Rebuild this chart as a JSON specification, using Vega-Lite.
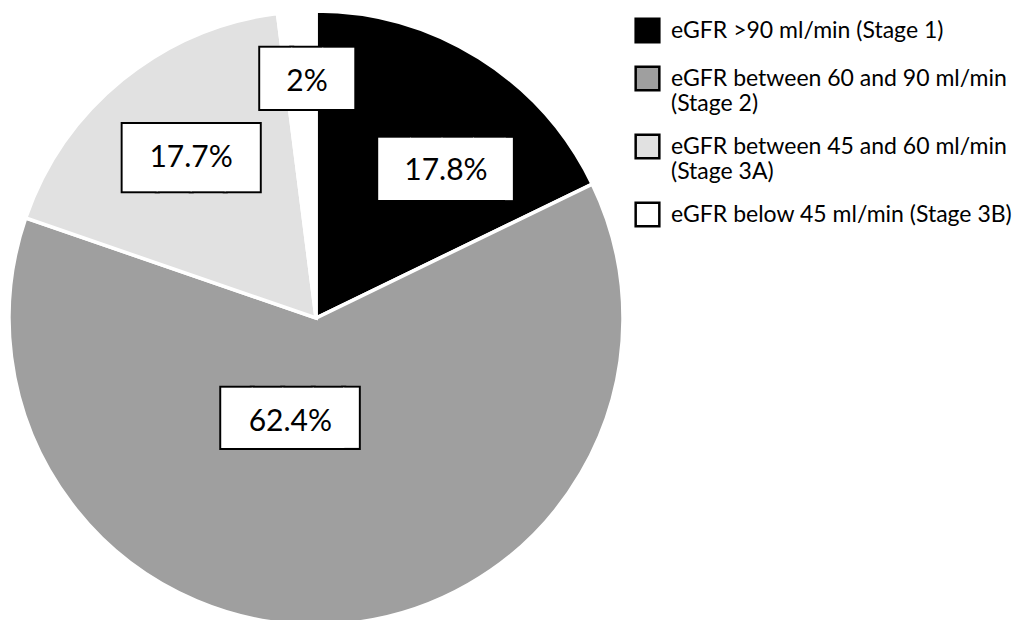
{
  "$schema": "https://vega.github.io/schema/vega-lite/v6.json",
  "width": 632,
  "height": 604,
  "autosize": {"type": "none"},
  "padding": {"left": 0, "top": 16, "right": 398, "bottom": 0},
  "background": "white",
  "config": {"view": {"stroke": null}},
  "data": {
    "values": [
      {"category": "eGFR >90 ml/min (Stage 1)", "value": 17.8, "order": 1, "label": "17.8%"},
      {"category": "eGFR between 60 and 90 ml/min (Stage 2)", "value": 62.4, "order": 2, "label": "62.4%"},
      {"category": "eGFR between 45 and 60 ml/min (Stage 3A)", "value": 17.7, "order": 3, "label": "17.7%"},
      {"category": "eGFR below 45 ml/min (Stage 3B)", "value": 2, "order": 4, "label": "2%"}
    ]
  },
  "encoding": {
    "theta": {"field": "value", "type": "quantitative", "stack": true},
    "order": {"field": "order", "type": "quantitative"}
  },
  "layer": [
    {
      "mark": {"type": "arc", "outerRadius": 307, "stroke": "white", "strokeWidth": 3.5},
      "encoding": {
        "fill": {
          "field": "category",
          "type": "nominal",
          "scale": {
            "domain": ["eGFR >90 ml/min (Stage 1)", "eGFR between 60 and 90 ml/min (Stage 2)", "eGFR between 45 and 60 ml/min (Stage 3A)", "eGFR below 45 ml/min (Stage 3B)"],
            "range": ["#000000", "#9f9f9f", "#e1e1e1", "#ffffff"]
          },
          "legend": {
            "orient": "none",
            "legendX": 634,
            "legendY": 1,
            "title": null,
            "symbolType": "square",
            "symbolSize": 560,
            "symbolStrokeColor": "black",
            "symbolStrokeWidth": 2.5,
            "labelFont": "Lato",
            "labelFontSize": 23,
            "labelColor": "black",
            "labelLimit": 400,
            "labelOffset": 10,
            "rowPadding": 13,
            "labelExpr": "indexof(datum.label, 'between') >= 0 ? [slice(datum.label, 0, indexof(datum.label, ' (')), slice(datum.label, indexof(datum.label, ' (') + 1)] : datum.label"
          }
        }
      }
    },
    {
      "mark": {"type": "text", "radius": 198, "thetaOffset": 0.1559, "font": "DejaVu Sans Mono", "fontSize": 52.4, "fill": "black", "stroke": "black", "strokeWidth": 4, "align": "center", "baseline": "middle", "dx": 11.8, "dy": 2.6},
      "encoding": {"text": {"condition": {"test": "datum.order == 1", "value": "████▎"}, "value": ""}}
    },
    {
      "mark": {"type": "text", "radius": 198, "thetaOffset": 0.1559, "font": "DejaVu Sans Mono", "fontSize": 52.4, "fill": "white", "align": "center", "baseline": "middle", "dx": 11.8, "dy": 2.6},
      "encoding": {"text": {"condition": {"test": "datum.order == 1", "value": "████▎"}, "value": ""}}
    },
    {
      "mark": {"type": "text", "radius": 198, "thetaOffset": 0.1559, "font": "Lato", "fontSize": 30, "fill": "black", "align": "center", "baseline": "middle", "dy": 2.8},
      "encoding": {"text": {"condition": {"test": "datum.order == 1", "field": "label"}, "value": ""}}
    },
    {
      "mark": {"type": "text", "radius": 102.7, "thetaOffset": 0.3124, "font": "DejaVu Sans Mono", "fontSize": 50.7, "fill": "black", "stroke": "black", "strokeWidth": 4, "align": "center", "baseline": "middle", "dx": 7.6, "dy": 2.6},
      "encoding": {"text": {"condition": {"test": "datum.order == 2", "value": "████▌"}, "value": ""}}
    },
    {
      "mark": {"type": "text", "radius": 102.7, "thetaOffset": 0.3124, "font": "DejaVu Sans Mono", "fontSize": 50.7, "fill": "white", "align": "center", "baseline": "middle", "dx": 7.6, "dy": 2.6},
      "encoding": {"text": {"condition": {"test": "datum.order == 2", "value": "████▌"}, "value": ""}}
    },
    {
      "mark": {"type": "text", "radius": 102.7, "thetaOffset": 0.3124, "font": "Lato", "fontSize": 30, "fill": "black", "align": "center", "baseline": "middle", "dy": 4.8},
      "encoding": {"text": {"condition": {"test": "datum.order == 2", "field": "label"}, "value": ""}}
    },
    {
      "mark": {"type": "text", "radius": 203.7, "thetaOffset": 0.0222, "font": "DejaVu Sans Mono", "fontSize": 56.5, "fill": "black", "stroke": "black", "strokeWidth": 4, "align": "center", "baseline": "middle", "dy": 2.8},
      "encoding": {"text": {"condition": {"test": "datum.order == 3", "value": "████"}, "value": ""}}
    },
    {
      "mark": {"type": "text", "radius": 203.7, "thetaOffset": 0.0222, "font": "DejaVu Sans Mono", "fontSize": 56.5, "fill": "white", "align": "center", "baseline": "middle", "dy": 2.8},
      "encoding": {"text": {"condition": {"test": "datum.order == 3", "value": "████"}, "value": ""}}
    },
    {
      "mark": {"type": "text", "radius": 203.7, "thetaOffset": 0.0222, "font": "Lato", "fontSize": 30, "fill": "black", "align": "center", "baseline": "middle", "dy": 1.3},
      "encoding": {"text": {"condition": {"test": "datum.order == 3", "field": "label"}, "value": ""}}
    },
    {
      "mark": {"type": "text", "radius": 239.7, "thetaOffset": 0.0253, "font": "DejaVu Sans Mono", "fontSize": 51.5, "fill": "black", "stroke": "black", "strokeWidth": 4, "align": "center", "baseline": "middle", "dy": 2.6},
      "encoding": {"text": {"condition": {"test": "datum.order == 4", "value": "███"}, "value": ""}}
    },
    {
      "mark": {"type": "text", "radius": 239.7, "thetaOffset": 0.0253, "font": "DejaVu Sans Mono", "fontSize": 51.5, "fill": "white", "align": "center", "baseline": "middle", "dy": 2.6},
      "encoding": {"text": {"condition": {"test": "datum.order == 4", "value": "███"}, "value": ""}}
    },
    {
      "mark": {"type": "text", "radius": 239.7, "thetaOffset": 0.0253, "font": "Lato", "fontSize": 30, "fill": "black", "align": "center", "baseline": "middle", "dy": 3.8},
      "encoding": {"text": {"condition": {"test": "datum.order == 4", "field": "label"}, "value": ""}}
    }
  ]
}
